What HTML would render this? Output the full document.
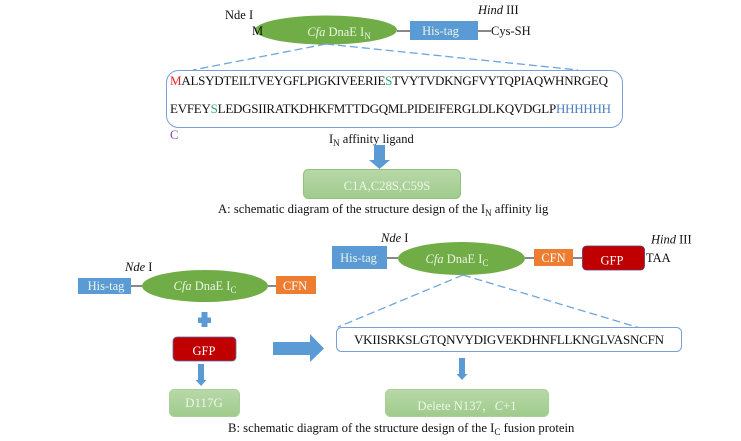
<!DOCTYPE html>
<html><head><meta charset="utf-8"><style>
html,body{margin:0;padding:0;background:#fff}
svg{display:block;filter:blur(0.25px)}
text{font-family:"Liberation Serif","Noto Serif CJK SC",serif;font-size:12.5px;fill:#111}
.w{fill:#eaf4e3;text-anchor:middle}
.g{fill:#eef7ea;text-anchor:middle;font-size:12.7px}
.s{font-size:9px}
.seq{font-size:13px}
.cap{font-size:12.68px}
</style></head><body>
<svg width="741" height="441" viewBox="0 0 741 441" xmlns="http://www.w3.org/2000/svg">
<defs><linearGradient id="gr" x1="0" y1="0" x2="0" y2="1"><stop offset="0" stop-color="#b8d8a8"/><stop offset="1" stop-color="#9fcb8c"/></linearGradient></defs>

<!-- Panel A -->
<line x1="397" y1="31" x2="410" y2="31" stroke="#111" stroke-width="1"/>
<line x1="478" y1="31" x2="491" y2="31" stroke="#111" stroke-width="1"/>
<ellipse cx="326" cy="30" rx="71" ry="14.5" fill="#70ad47"/>
<rect x="410" y="21" width="68" height="19" fill="#5b9bd5"/>
<text class="w" x="339" y="36"><tspan font-style="italic">Cfa</tspan> DnaE I<tspan class="s" dy="3" style="fill:#eaf4e3">N</tspan></text>
<text class="w" x="440.500" y="35">His-tag</text>
<text x="225" y="19">Nde I</text>
<text x="478" y="14"><tspan font-style="italic">Hind</tspan> III</text>
<text x="252" y="35">M</text>
<text x="491" y="35">Cys-SH</text>
<path d="M326 44 L193 70 M326 44 L578 70" stroke="#6ea6dc" stroke-width="1.3" stroke-dasharray="8 4" fill="none"/>
<rect x="166.500" y="70.500" width="456" height="57" rx="12" fill="#fff" stroke="#7a9fd8" stroke-width="1"/>
<text class="seq" x="170" y="85" textLength="438" lengthAdjust="spacing"><tspan style="fill:#e8202a">M</tspan>ALSYDTEILTVEYGFLPIGKIVEERIE<tspan style="fill:#2fa96a">S</tspan>TVYTVDKNGFVYTQPIAQWHNRGEQ</text>
<text class="seq" x="170" y="113" textLength="441" lengthAdjust="spacing">EVFEY<tspan style="fill:#2fa96a">S</tspan>LEDGSIIRATKDHKFMTTDGQMLPIDEIFERGLDLKQVDGLP<tspan style="fill:#4a7fc0">HHHHHH</tspan></text>
<text x="170" y="139" style="fill:#8a3fb0">C</text>
<text x="329" y="143">I<tspan class="s" dy="3">N</tspan><tspan dy="-3"> affinity ligand</tspan></text>
<path d="M374 145 H385 V160 H390 L379.500 169 L369 160 H374 Z" fill="#5b9bd5"/>
<rect x="303.500" y="169.500" width="157" height="29" rx="5" fill="url(#gr)" stroke="#8fc47a"/>
<text class="g" x="387" y="190">C1A,C28S,C59S</text>
<text class="cap" x="218" y="213">A: schematic diagram of the structure design of the I<tspan class="s" dy="3">N</tspan><tspan dy="-3"> affinity lig</tspan></text>

<!-- Panel B left -->
<line x1="131" y1="286" x2="142" y2="286" stroke="#111"/>
<line x1="268" y1="286" x2="276" y2="286" stroke="#111"/>
<rect x="78" y="278" width="53" height="16" fill="#5b9bd5"/>
<ellipse cx="205" cy="286" rx="63" ry="16" fill="#70ad47"/>
<rect x="276" y="276" width="40" height="18" fill="#ed7d31"/>
<text class="w" x="106" y="290">His-tag</text>
<text class="w" x="205" y="290"><tspan font-style="italic">Cfa</tspan> DnaE I<tspan class="s" dy="3" style="fill:#eaf4e3">C</tspan></text>
<text class="w" x="295" y="290" style="fill:#fff">CFN</text>
<text x="125" y="271"><tspan font-style="italic">Nde</tspan> I</text>
<path d="M201.500 312 H207.500 V317.500 H211 V323 H207.500 V327 H201.500 V323 H198 V317.500 H201.500 Z" fill="#5b9bd5"/>
<rect x="173" y="337" width="63" height="24" rx="4" fill="#c00000" stroke="#5a6ea8" stroke-width="0.8"/>
<text class="w" x="204" y="355" style="fill:#fff">GFP</text>
<path d="M198 364 H204 V380 H206.500 L201 386 L195.500 380 H198 Z" fill="#5b9bd5"/>
<rect x="169.500" y="389.500" width="70" height="27" rx="5" fill="url(#gr)" stroke="#a8d098"/>
<text class="g" x="204" y="407" style="font-size:13px">D117G</text>
<path d="M273 342 H310 V334 L324 348.500 L310 362 V355 H273 Z" fill="#5b9bd5"/>

<!-- Panel B right -->
<line x1="387" y1="258" x2="398" y2="258" stroke="#111"/>
<line x1="525" y1="258" x2="534" y2="258" stroke="#111"/>
<line x1="573" y1="258" x2="582" y2="258" stroke="#111"/>
<rect x="332" y="246" width="55" height="23" fill="#5b9bd5"/>
<ellipse cx="461.500" cy="258.500" rx="63.500" ry="16.500" fill="#70ad47"/>
<rect x="534" y="249" width="39" height="17" fill="#ed7d31"/>
<rect x="582.500" y="246" width="62" height="24" rx="4" fill="#c00000" stroke="#5a3a6a" stroke-width="0.8"/>
<text class="w" x="358.500" y="262">His-tag</text>
<text class="w" x="457" y="263"><tspan font-style="italic">Cfa</tspan> DnaE I<tspan class="s" dy="3" style="fill:#eaf4e3">C</tspan></text>
<text class="w" x="553.500" y="262" style="fill:#fff">CFN</text>
<text class="w" x="612" y="264.500" style="fill:#fff">GFP</text>
<text x="381" y="242"><tspan font-style="italic">Nde</tspan> I</text>
<text x="651" y="243.500"><tspan font-style="italic">Hind</tspan> III</text>
<text x="646" y="262">TAA</text>
<path d="M463 275 L338 327 M463 275 L640 328" stroke="#6ea6dc" stroke-width="1.3" stroke-dasharray="8 4" fill="none"/>
<rect x="336.500" y="327.500" width="345" height="24" rx="5" fill="#fff" stroke="#7a9fd8"/>
<text class="seq" x="354" y="344" textLength="310" lengthAdjust="spacing">VKIISRKSLGTQNVYDIGVEKDHNFLLKNGLVASNCFN</text>
<path d="M459 358 H465 V374 H467.500 L462 380 L456.500 374 H459 Z" fill="#5b9bd5"/>
<rect x="385.500" y="389.500" width="163" height="27" rx="5" fill="url(#gr)" stroke="#a8d098"/>
<text class="g" x="467" y="410">Delete N137，<tspan font-style="italic">C</tspan>+1</text>
<text class="cap" x="228" y="432">B: schematic diagram of the structure design of the I<tspan class="s" dy="3">C</tspan><tspan dy="-3"> fusion protein</tspan></text>
</svg>
</body></html>
